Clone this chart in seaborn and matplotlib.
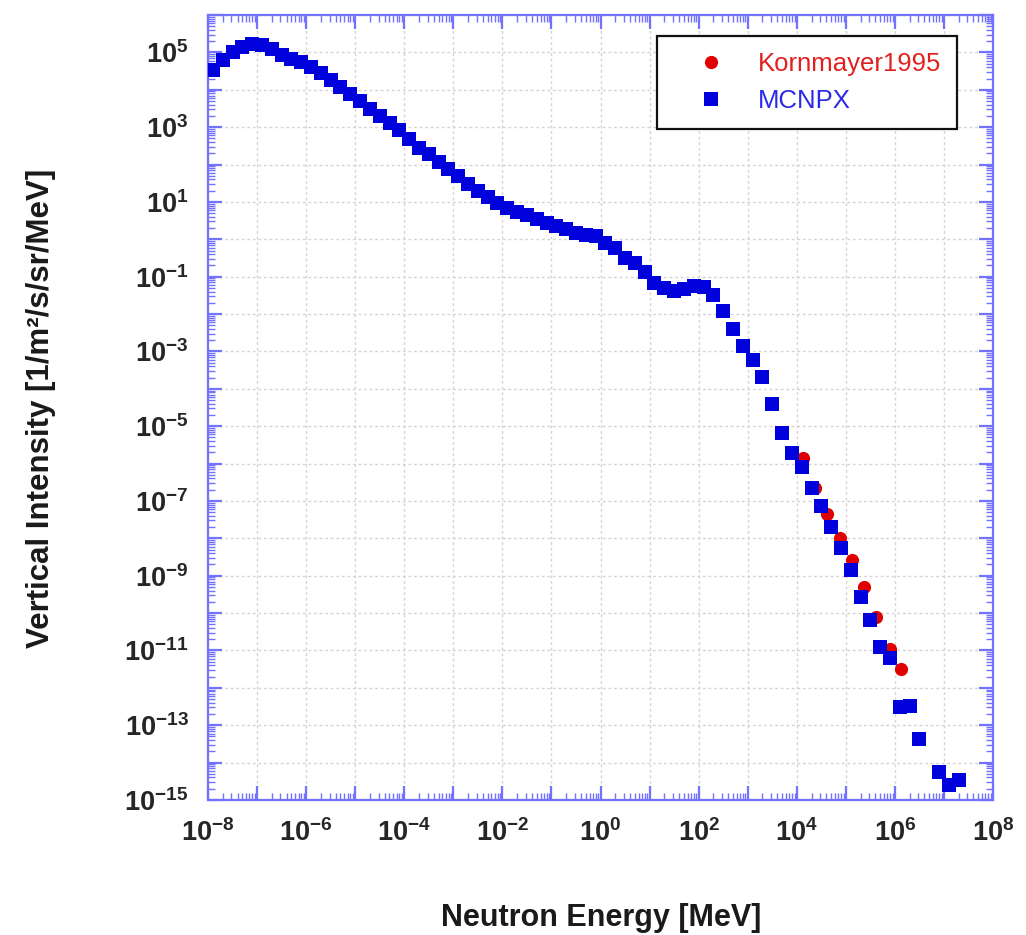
import numpy as np
import matplotlib
matplotlib.use("Agg")
import matplotlib.pyplot as plt
import seaborn as sns
from matplotlib.ticker import LogLocator, FuncFormatter, NullFormatter
from matplotlib.lines import Line2D

# ---- data ----
mcnpx_energy = [
    1.26e-8, 2.00e-8, 3.16e-8, 5.01e-8, 7.94e-8,
    1.26e-7, 2.00e-7, 3.16e-7, 5.01e-7, 7.94e-7,
    1.26e-6, 2.00e-6, 3.16e-6, 5.01e-6, 7.94e-6,
    1.26e-5, 2.00e-5, 3.16e-5, 5.01e-5, 7.94e-5,
    1.26e-4, 2.00e-4, 3.16e-4, 5.01e-4, 7.94e-4,
    1.26e-3, 2.00e-3, 3.16e-3, 5.01e-3, 7.94e-3,
    1.26e-2, 2.00e-2, 3.16e-2, 5.01e-2, 7.94e-2,
    1.26e-1, 2.00e-1, 3.16e-1, 5.01e-1, 7.94e-1,
    1.26e0, 2.00e0, 3.16e0, 5.01e0, 7.94e0,
    1.26e1, 2.00e1, 3.16e1, 5.01e1, 7.94e1,
    1.26e2, 2.00e2, 3.16e2, 5.01e2, 7.94e2,
    1.26e3, 2.00e3, 3.16e3, 5.01e3, 7.94e3,
    1.26e4, 2.00e4, 3.16e4, 5.01e4, 7.94e4,
    1.26e5, 2.00e5, 3.16e5, 5.01e5, 7.94e5,
    1.26e6, 2.00e6, 3.16e6, 7.94e6,
    1.26e7, 2.00e7,
]
mcnpx_intensity = [
    3.4e4, 6.3e4, 1.02e5, 1.38e5, 1.66e5,
    1.58e5, 1.20e5, 8.7e4, 6.8e4, 5.4e4,
    4.0e4, 2.8e4, 1.78e4, 1.20e4, 7.9e3,
    5.0e3, 3.0e3, 2.0e3, 1.29e3, 8.5e2,
    4.8e2, 2.8e2, 1.86e2, 1.20e2, 74,
    48, 30, 20, 13.5, 9.3,
    6.9, 5.5, 4.5, 3.5, 2.8,
    2.3, 1.9, 1.45, 1.29, 1.23,
    0.79, 0.59, 0.32, 0.23, 0.135,
    0.068, 0.050, 0.042, 0.047, 0.056,
    0.052, 0.032, 0.012, 4.0e-3, 1.38e-3,
    5.9e-4, 2.1e-4, 3.9e-5, 6.6e-6, 1.9e-6,
    8.1e-7, 2.2e-7, 7.2e-8, 2.0e-8, 5.5e-9,
    1.41e-9, 2.7e-10, 6.5e-11, 1.23e-11, 6.3e-12,
    3.1e-13, 3.2e-13, 4.3e-14, 5.6e-15,
    2.5e-15, 3.4e-15,
]
korn_energy = [1.35e4, 2.34e4, 4.17e4, 7.6e4, 1.35e5, 2.34e5, 4.17e5, 7.9e5, 1.35e6]
korn_intensity = [1.41e-6, 2.2e-7, 4.5e-8, 1.02e-8, 2.6e-9, 5.0e-10, 7.9e-11, 1.10e-11, 3.2e-12]

series_labels = ["Kornmayer1995", "MCNPX"]
x_label = "Neutron Energy [MeV]"
y_label = "Vertical Intensity [1/m\u00b2/s/sr/MeV]"
x_tick_exponents = [-8, -6, -4, -2, 0, 2, 4, 6, 8]
y_tick_exponents = [5, 3, 1, -1, -3, -5, -7, -9, -11, -13, -15]

# ---- style ----
sns.set_theme(style="white")
plt.rcParams["font.family"] = ["Liberation Sans", "DejaVu Sans"]
plt.rcParams["mathtext.fontset"] = "custom"
plt.rcParams["mathtext.rm"] = "Liberation Sans:bold"
plt.rcParams["mathtext.bf"] = "Liberation Sans:bold"
plt.rcParams["mathtext.it"] = "Liberation Sans:bold"

red = "#e00000"
blue = "#0000dd"
axis_blue = "#7272ff"

fig = plt.figure(figsize=(10.26, 9.35), dpi=100)
ax = fig.add_axes([208 / 1026, 1 - 800 / 935, 785 / 1026, 785 / 935])

sns.scatterplot(x=korn_energy, y=korn_intensity, marker="o", s=90, color=red,
                linewidth=0, ax=ax, zorder=3)
sns.scatterplot(x=mcnpx_energy, y=mcnpx_intensity, marker="s", s=95, color=blue,
                linewidth=0, ax=ax, zorder=4)

ax.set_xscale("log")
ax.set_yscale("log")
ax.set_xlim(1e-8, 1e8)
ax.set_ylim(1e-15, 1e6)

for axis in (ax.xaxis, ax.yaxis):
    axis.set_major_locator(LogLocator(base=10, numticks=40))
    axis.set_minor_locator(LogLocator(base=10, subs=np.arange(2, 10), numticks=40))
    axis.set_minor_formatter(NullFormatter())


def make_fmt(exps):
    def f(v, pos):
        e = int(round(np.log10(v)))
        if e in exps:
            return r"$\mathbf{10^{%d}}$" % e
        return ""
    return f


ax.xaxis.set_major_formatter(FuncFormatter(make_fmt(x_tick_exponents)))
ax.yaxis.set_major_formatter(FuncFormatter(make_fmt(y_tick_exponents)))

ax.tick_params(which="both", direction="in", top=True, right=True,
               bottom=True, left=True, color=axis_blue)
ax.tick_params(which="major", length=10, width=1.6, labelsize=19.5)
ax.tick_params(axis="x", which="major", pad=14)
ax.tick_params(axis="y", which="major", pad=14)
ax.tick_params(which="minor", length=5, width=1.0)

for sp in ax.spines.values():
    sp.set_visible(True)
    sp.set_color(axis_blue)
    sp.set_linewidth(1.6)

ax.grid(False, which="minor")
ax.grid(True, which="major", color="#d4d4d4", linestyle=(0, (2, 2)), linewidth=1.0)
ax.set_axisbelow(True)

fig.text(601 / 1026, 1 - 918 / 935, x_label, ha="center", va="center",
         fontsize=22, fontweight="bold", color="#1a1a1a")
fig.text(41 / 1026, 1 - 408 / 935, y_label, ha="center", va="center",
         rotation=90, fontsize=22.5, fontweight="bold", color="#1a1a1a")

handles = [
    Line2D([], [], marker="o", linestyle="none", markersize=9.5,
           markerfacecolor=red, markeredgewidth=0),
    Line2D([], [], marker="s", linestyle="none", markersize=9.5,
           markerfacecolor=blue, markeredgewidth=0),
]
leg = ax.legend(handles, series_labels, loc="upper right",
                bbox_to_anchor=((957 - 208) / 785, (800 - 36) / 785),
                fontsize=18.5, frameon=True, fancybox=False, borderpad=0.62,
                handlelength=2.96, handletextpad=0.35, labelspacing=0.5,
                borderaxespad=0)
leg.get_frame().set_edgecolor("#111111")
leg.get_frame().set_linewidth(1.6)
leg.get_frame().set_facecolor("white")
leg.get_frame().set_alpha(1)
for t, c in zip(leg.get_texts(), ["#e22020", "#2a2ae8"]):
    t.set_color(c)

fig.savefig("out.png", dpi=100)
